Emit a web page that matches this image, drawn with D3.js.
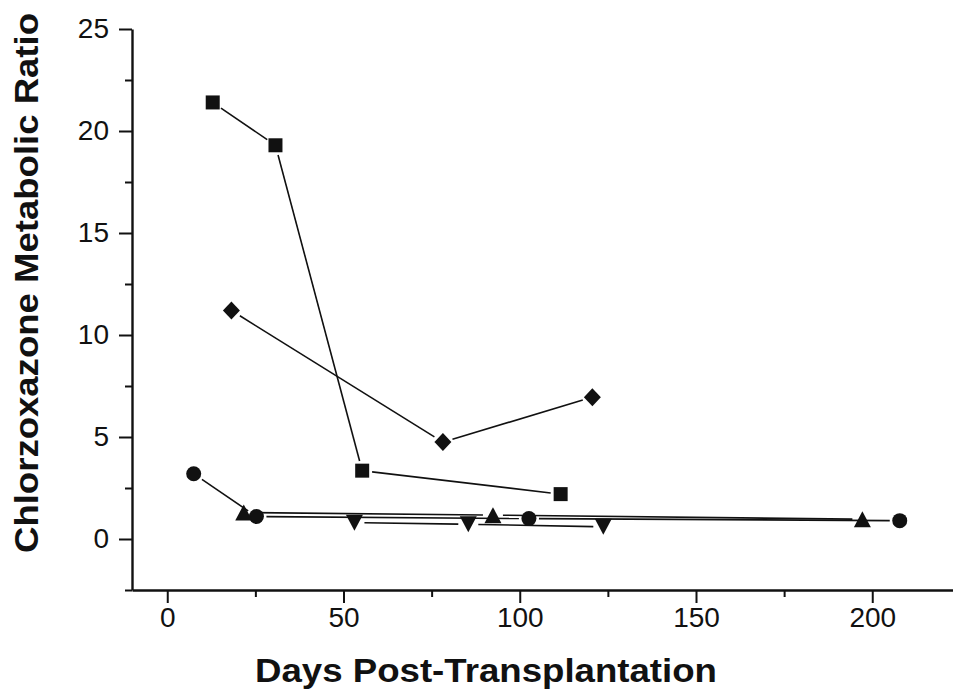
<!DOCTYPE html>
<html>
<head>
<meta charset="utf-8">
<script src="https://cdn.jsdelivr.net/npm/d3@7"></script>
<style>
  body { margin: 0; background: #fff; }
  .tick text { font-family: "Liberation Sans Narrow", "Arial Narrow", Arial, sans-serif; font-size: 28px; fill: #111; }
  .axisTitle { font-family: "Liberation Sans", Arial, sans-serif; font-weight: bold; font-size: 33px; fill: #111; }
</style>
</head>
<body>
<div id="chart"></div>
<script>
// values
var xTicks = [0, 50, 100, 150, 200];
var xMinor = [25, 75, 125, 175];
var yTicks = [0, 5, 10, 15, 20, 25];
var yMinor = [-2.5, 2.5, 7.5, 12.5, 17.5, 22.5];

var squareDays = [12.9, 30.7, 55.3, 111.6];
var squareRatio = [21.4, 19.3, 3.35, 2.2];
var diamondDays = [18.2, 78.2, 120.6];
var diamondRatio = [11.2, 4.75, 6.95];
var circleDays = [7.5, 25.3, 102.6, 207.8];
var circleRatio = [3.2, 1.1, 1.0, 0.9];
var upDays = [21.7, 92.4, 197.2];
var upRatio = [1.3, 1.17, 0.97];
var downDays = [53.1, 85.4, 123.7];
var downRatio = [0.8, 0.72, 0.6];

var svgWidth = 953;
var svgHeight = 691;

var margin = {
  top: 29,
  right: 0,
  bottom: 101,
  left: 132
};

var height = svgHeight - margin.top - margin.bottom;

var svg = d3
  .select("#chart")
  .append("svg")
  .attr("width", svgWidth)
  .attr("height", svgHeight);

var x = d3.scaleLinear().domain([-10, 225]).range([margin.left, margin.left + 235 * 3.525]);
var y = d3.scaleLinear().domain([-2.5, 25]).range([margin.top + height, margin.top]);

// marker shapes
var square = { draw: function(c) { c.rect(-7, -7, 14, 14); } };
var diamond = { draw: function(c) { c.moveTo(0, -9); c.lineTo(8.5, 0); c.lineTo(0, 9); c.lineTo(-8.5, 0); c.closePath(); } };
var circle = { draw: function(c) { c.moveTo(7.5, 0); c.arc(0, 0, 7.5, 0, 2 * Math.PI); } };
var triUp = { draw: function(c) { c.moveTo(0, -8); c.lineTo(8.5, 8); c.lineTo(-8.5, 8); c.closePath(); } };
var triDown = { draw: function(c) { c.moveTo(0, 8); c.lineTo(8.5, -8); c.lineTo(-8.5, -8); c.closePath(); } };

var series = [
  { days: squareDays, ratio: squareRatio, shape: square },
  { days: diamondDays, ratio: diamondRatio, shape: diamond },
  { days: circleDays, ratio: circleRatio, shape: circle },
  { days: upDays, ratio: upRatio, shape: triUp },
  { days: downDays, ratio: downRatio, shape: triDown }
];

// axes
svg.append("g")
  .attr("transform", "translate(0," + y(-2.5) + ")")
  .call(d3.axisBottom(x).tickValues(xTicks).tickSize(13).tickSizeOuter(0).tickPadding(4));
svg.append("g")
  .attr("transform", "translate(0," + y(-2.5) + ")")
  .call(d3.axisBottom(x).tickValues(xMinor).tickSize(7).tickFormat(""))
  .select(".domain").remove();

svg.append("g")
  .attr("transform", "translate(" + x(-10) + ",0)")
  .call(d3.axisLeft(y).tickValues(yTicks).tickSize(13).tickSizeOuter(0).tickPadding(10));
svg.append("g")
  .attr("transform", "translate(" + x(-10) + ",0)")
  .call(d3.axisLeft(y).tickValues(yMinor).tickSize(7).tickFormat(""))
  .select(".domain").remove();

svg.selectAll(".domain").attr("stroke", "#111").attr("stroke-width", 2.4);
svg.selectAll(".tick line").attr("stroke", "#111").attr("stroke-width", 2);

// connecting lines, stopped short of the markers
var gap = 10;
series.forEach(function(s) {
  for (var i = 0; i < s.days.length - 1; i++) {
    var x1 = x(s.days[i]), y1 = y(s.ratio[i]);
    var x2 = x(s.days[i + 1]), y2 = y(s.ratio[i + 1]);
    var len = Math.hypot(x2 - x1, y2 - y1);
    var ux = (x2 - x1) / len, uy = (y2 - y1) / len;
    svg.append("line")
      .attr("x1", x1 + ux * gap).attr("y1", y1 + uy * gap)
      .attr("x2", x2 - ux * gap).attr("y2", y2 - uy * gap)
      .attr("stroke", "#111")
      .attr("stroke-width", 1.6);
  }
});

// markers
series.forEach(function(s) {
  svg.selectAll(null)
    .data(s.days)
    .enter()
    .append("path")
    .attr("d", d3.symbol().type(s.shape))
    .attr("transform", function(d, i) { return "translate(" + x(d) + "," + y(s.ratio[i]) + ")"; })
    .attr("fill", "#111");
});

// titles
svg.append("text")
  .attr("class", "axisTitle")
  .attr("text-anchor", "middle")
  .attr("x", 486)
  .attr("y", 682)
  .attr("textLength", 462)
  .attr("lengthAdjust", "spacingAndGlyphs")
  .text("Days Post-Transplantation");

svg.append("text")
  .attr("class", "axisTitle")
  .attr("text-anchor", "middle")
  .attr("transform", "translate(38,283) rotate(-90)")
  .attr("textLength", 540)
  .attr("lengthAdjust", "spacingAndGlyphs")
  .text("Chlorzoxazone Metabolic Ratio");
</script>
</body>
</html>
